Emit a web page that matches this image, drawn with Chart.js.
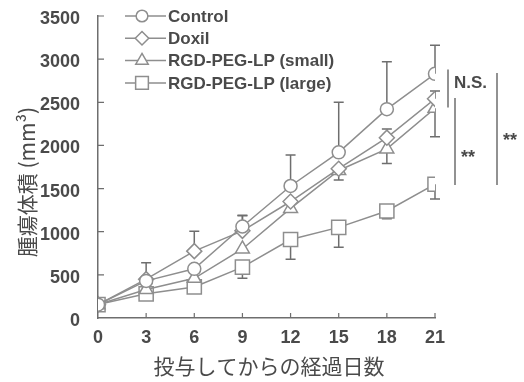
<!DOCTYPE html>
<html>
<head>
<meta charset="utf-8">
<script src="https://cdn.jsdelivr.net/npm/chart.js@4/dist/chart.umd.min.js"></script>
<style>
  html, body { margin: 0; padding: 0; background: #fff; }
  #wrap { width: 524px; height: 382px; position: relative; }
</style>
</head>
<body>
<div id="wrap"><canvas id="tumor-chart"></canvas></div>
<script>
// 投与後日数
const days = [0, 3, 6, 9, 12, 15, 18, 21];
const yTickValues = [0, 500, 1000, 1500, 2000, 2500, 3000, 3500];

const seriesNames = ['Control', 'Doxil', 'RGD-PEG-LP (small)', 'RGD-PEG-LP (large)'];

// 腫瘍体積 (mm3) と誤差
const controlVol = [155, 430, 570, 1060, 1530, 1920, 2420, 2830];
const controlErr = [0, 210, 0, 130, 360, 580, 550, 330];
const doxilVol = [155, 450, 775, 1010, 1350, 1730, 2090, 2540];
const doxilErr = [0, 0, 230, 175, 0, 0, 100, 90];
const smallVol = [155, 330, 460, 800, 1270, 1710, 1960, 2430];
const smallErr = [0, 0, 0, 0, 0, 110, 170, 330];
const largeVol = [155, 280, 360, 590, 910, 1050, 1240, 1550];
const largeErr = [0, 0, 0, 130, 230, 230, 90, 170];

const textColor = '#4a4a4a';
const lineColor = '#8e8e8e';
const axisColor = '#6e6e6e';
const latinFont = '"Liberation Sans", Arial, sans-serif';
const cjkFont = '"Noto Sans CJK JP", sans-serif';

function toPoints(vals) {
    return days.map(function (d, i) { return { x: d, y: vals[i] }; });
}

function makeSet(label, vals, errs, dir, style, radius) {
    return {
        label: label,
        data: toPoints(vals),
        errors: errs,
        errDir: dir,            // 1 = 上向き, -1 = 下向き
        borderColor: lineColor,
        borderWidth: 1.5,
        pointStyle: style,
        pointRadius: radius,
        pointHoverRadius: radius,
        pointBorderWidth: 1.5,
        pointBorderColor: lineColor,
        pointBackgroundColor: '#fff',
        tension: 0,
        fill: false
    };
}

// 誤差棒
const errorBarPlugin = {
    id: 'errorBars',
    beforeDatasetsDraw(chart) {
        const ctx = chart.ctx, xs = chart.scales.x, ys = chart.scales.y;
        ctx.save();
        ctx.strokeStyle = axisColor;
        ctx.lineWidth = 1.5;
        chart.data.datasets.forEach(function (ds) {
            ds.data.forEach(function (pt, j) {
                const e = ds.errors[j];
                if (!e) return;
                const x = xs.getPixelForValue(pt.x);
                const y0 = ys.getPixelForValue(pt.y);
                const y1 = ys.getPixelForValue(pt.y + ds.errDir * e);
                ctx.beginPath();
                ctx.moveTo(x, y0); ctx.lineTo(x, y1);
                ctx.moveTo(x - 5, y1); ctx.lineTo(x + 5, y1);
                ctx.stroke();
            });
        });
        ctx.restore();
    }
};

// 軸の内向き目盛り、凡例、軸タイトル、有意差表示
const decorPlugin = {
    id: 'decor',
    afterDraw(chart) {
        const ctx = chart.ctx, xs = chart.scales.x, ys = chart.scales.y;
        const area = chart.chartArea;
        ctx.save();

        // 目盛り
        ctx.strokeStyle = axisColor;
        ctx.lineWidth = 1.2;
        ctx.beginPath();
        days.forEach(function (d) {
            if (d === 0) return;
            const x = xs.getPixelForValue(d);
            ctx.moveTo(x, area.bottom); ctx.lineTo(x, area.bottom - 5);
        });
        yTickValues.forEach(function (v) {
            if (v === 0) return;
            const y = ys.getPixelForValue(v);
            ctx.moveTo(area.left, y); ctx.lineTo(area.left + 6, y);
        });
        ctx.stroke();

        // 凡例
        const lx0 = area.left + 27, lx1 = area.left + 68, mx = area.left + 44;
        chart.data.datasets.forEach(function (ds, i) {
            const y = area.top + i * 22.3;
            ctx.strokeStyle = lineColor;
            ctx.lineWidth = 1.5;
            ctx.beginPath();
            ctx.moveTo(lx0, y); ctx.lineTo(lx1, y);
            ctx.stroke();
            ctx.fillStyle = '#fff';
            Chart.helpers.drawPoint(ctx, {
                pointStyle: ds.pointStyle,
                radius: ds.pointRadius * 0.9,
                rotation: 0,
                borderWidth: 1.5
            }, mx, y);
            ctx.fillStyle = textColor;
            ctx.font = 'bold 17px ' + latinFont;
            ctx.textAlign = 'left';
            ctx.textBaseline = 'middle';
            ctx.fillText(ds.label, area.left + 70, y + 1);
        });

        // 軸タイトル
        ctx.fillStyle = textColor;
        ctx.font = '21px ' + cjkFont;
        ctx.textAlign = 'center';
        ctx.textBaseline = 'middle';
        ctx.fillText('投与してからの経過日数', 269, 366);
        ctx.save();
        ctx.translate(27, 182);
        ctx.rotate(-Math.PI / 2);
        ctx.fillText('腫瘍体積 (mm³)', 0, 0);
        ctx.restore();

        // 有意差
        ctx.strokeStyle = axisColor;
        ctx.lineWidth = 1.5;
        const brackets = [
            { dx: 13, from: 2880, to: 2440 },
            { dx: 20, from: 2550, to: 1540 },
            { dx: 62, from: 2840, to: 1540 }
        ];
        brackets.forEach(function (b) {
            ctx.beginPath();
            ctx.moveTo(area.right + b.dx, ys.getPixelForValue(b.from));
            ctx.lineTo(area.right + b.dx, ys.getPixelForValue(b.to));
            ctx.stroke();
        });
        ctx.fillStyle = textColor;
        ctx.textAlign = 'left';
        ctx.font = 'bold 17px ' + latinFont;
        ctx.fillText('N.S.', area.right + 19, ys.getPixelForValue(2720));
        ctx.font = 'bold 18px ' + latinFont;
        ctx.textBaseline = 'alphabetic';
        ctx.fillText('**', area.right + 26, ys.getPixelForValue(1915) + 10);
        ctx.fillText('**', area.right + 68, ys.getPixelForValue(2115) + 10);

        ctx.restore();
    }
};

new Chart(document.getElementById('tumor-chart'), {
    type: 'line',
    data: {
        datasets: [
            makeSet(seriesNames[0], controlVol, controlErr, 1, 'circle', 6.5),
            makeSet(seriesNames[1], doxilVol, doxilErr, 1, 'rectRot', 7.5),
            makeSet(seriesNames[2], smallVol, smallErr, -1, 'triangle', 8),
            makeSet(seriesNames[3], largeVol, largeErr, -1, 'rect', 10)
        ]
    },
    options: {
        responsive: true,
        maintainAspectRatio: false,
        animation: false,
        events: [],
        layout: { padding: { left: 0, right: 89, top: 16, bottom: 0 } },
        plugins: { legend: { display: false }, tooltip: { enabled: false } },
        scales: {
            x: {
                type: 'linear',
                min: 0, max: 21,
                afterBuildTicks: function (s) { s.ticks = days.map(function (d) { return { value: d }; }); },
                afterFit: function (s) { s.height = 64; s.paddingLeft = 0; s.paddingRight = 0; },
                grid: { display: false },
                border: { display: true, color: axisColor, width: 1.5 },
                ticks: { color: textColor, padding: 1, maxRotation: 0, font: { family: latinFont, size: 18, weight: 'bold' } }
            },
            y: {
                min: 0, max: 3500,
                afterBuildTicks: function (s) { s.ticks = yTickValues.map(function (v) { return { value: v }; }); },
                afterFit: function (s) { s.width = 98; s.paddingTop = 0; s.paddingBottom = 0; },
                grid: { display: false },
                border: { display: true, color: axisColor, width: 1.5 },
                ticks: {
                    color: textColor, padding: 10, labelOffset: 3,
                    font: { family: latinFont, size: 18, weight: 'bold' },
                    callback: function (v) { return String(v); }
                }
            }
        }
    },
    plugins: [errorBarPlugin, decorPlugin]
});
</script>
</body>
</html>
